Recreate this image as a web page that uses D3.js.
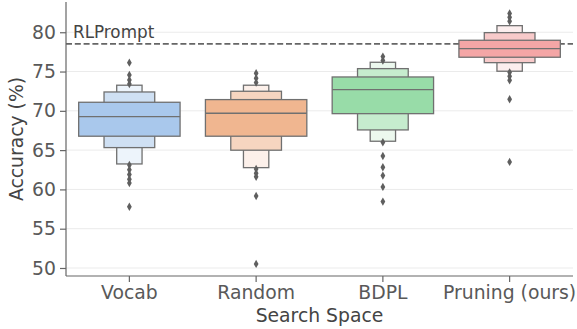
<!DOCTYPE html>
<html>
<head>
<meta charset="utf-8">
<script src="https://cdn.jsdelivr.net/npm/d3@7"></script>
<style>
  body { margin: 0; background: #fff; }
  text { font-family: "DejaVu Sans", sans-serif; }
</style>
</head>
<body>
<div id="chart"></div>
<script>
// Categories and letter-value boxes
const categories = ["Vocab", "Random", "BDPL", "Pruning (ours)"];
const medians = [69.26, 69.69, 72.70, 77.91];
// [low, high] for each letter-value level, innermost first
const level1 = [[66.77, 71.09], [66.77, 71.43], [69.64, 74.31], [76.82, 78.98]];
const level2 = [[65.32, 72.40], [64.99, 72.49], [67.57, 75.37], [76.13, 79.95]];
const level3 = [[63.24, 73.26], [62.77, 73.26], [66.13, 76.18], [75.04, 80.84]];
const outliers = [
    [76.13, 74.57, 73.93, 73.42, 63.1, 62.5, 61.9, 61.3, 60.8, 57.8],
    [74.78, 74.15, 73.59, 62.6, 62.06, 61.6, 59.17, 50.52],
    [76.9, 76.4, 66.0, 64.26, 62.82, 61.76, 60.32, 58.45],
    [82.4, 81.9, 81.4, 74.9, 74.4, 73.9, 71.48, 63.5]
];
const baseline = 78.51;
const baselineLabel = "RLPrompt";
const yTicks = [50, 55, 60, 65, 70, 75, 80];

const colors = [
    ["#a9c8ec", "#cfe0f3", "#edf4fb"],
    ["#f0b690", "#f6d5c0", "#fcf0ea"],
    ["#98dca8", "#c6ecce", "#ecf8ee"],
    ["#f4a6a6", "#f8caca", "#fceeee"]
];

const margin = {top: 2, right: 4, bottom: 53, left: 66};
const width = 577 - margin.left - margin.right;
const height = 329 - margin.top - margin.bottom;
const fontSize = 18.8;

const svg = d3.select("#chart")
    .append("svg")
    .attr("width", width + margin.left + margin.right)
    .attr("height", height + margin.top + margin.bottom)
    .append("g")
    .attr("transform", `translate(${margin.left},${margin.top})`);

const x = d3.scaleBand()
    .domain(categories)
    .range([0, width])
    .padding(0);

const y = d3.scaleLinear()
    .domain([48.98, 83.85])
    .range([height, 0]);

// Grid lines
svg.append("g")
    .selectAll("line")
    .data(yTicks)
    .enter()
    .append("line")
    .attr("x1", 0)
    .attr("x2", width)
    .attr("y1", d => y(d))
    .attr("y2", d => y(d))
    .attr("stroke", "#ebebeb")
    .attr("stroke-width", 1);

// Baseline
svg.append("line")
    .attr("x1", 0)
    .attr("x2", width)
    .attr("y1", y(baseline))
    .attr("y2", y(baseline))
    .attr("stroke", "#666")
    .attr("stroke-width", 1.7)
    .attr("stroke-dasharray", "6,2.8");

svg.append("text")
    .attr("x", 7)
    .attr("y", y(baseline) - 6)
    .attr("font-size", 16.8)
    .attr("fill", "#444")
    .text(baselineLabel);

// Boxen
const step = x.bandwidth();
const levels = [level3, level2, level1];
const fracs = [0.2, 0.4, 0.8];

categories.forEach((cat, i) => {
    const cx = x(cat) + step / 2;
    levels.forEach((lv, j) => {
        const w = step * fracs[j];
        const [lo, hi] = lv[i];
        svg.append("rect")
            .attr("x", cx - w / 2)
            .attr("y", y(hi))
            .attr("width", w)
            .attr("height", y(lo) - y(hi))
            .attr("fill", colors[i][2 - j])
            .attr("stroke", "#707070")
            .attr("stroke-width", 1.3);
    });
    const w = step * 0.8;
    svg.append("line")
        .attr("x1", cx - w / 2)
        .attr("x2", cx + w / 2)
        .attr("y1", y(medians[i]))
        .attr("y2", y(medians[i]))
        .attr("stroke", "#707070")
        .attr("stroke-width", 1.3);

    svg.append("g")
        .selectAll("path")
        .data(outliers[i])
        .enter()
        .append("path")
        .attr("d", "M0,-4.2L2.4,0L0,4.2L-2.4,0Z")
        .attr("transform", d => `translate(${cx},${y(d)})`)
        .attr("fill", "#5f5f5f");
});

// Axes
const yAxis = svg.append("g")
    .call(d3.axisLeft(y).tickValues(yTicks).tickSize(6).tickPadding(4));
const xAxis = svg.append("g")
    .attr("transform", `translate(0,${height})`)
    .call(d3.axisBottom(x).tickSize(6).tickPadding(4));

[yAxis, xAxis].forEach(ax => {
    ax.select(".domain").attr("stroke", "#666").attr("stroke-width", 1.2);
    ax.selectAll(".tick line").attr("stroke", "#666").attr("stroke-width", 1.2);
    ax.selectAll(".tick text")
        .attr("fill", "#595959")
        .style("font-family", "DejaVu Sans")
        .style("font-size", fontSize + "px");
});
yAxis.select(".domain").attr("d", `M0,0V${height}`);
xAxis.select(".domain").attr("d", `M0,0H${width}`);

// Axis labels
svg.append("text")
    .attr("x", width / 2)
    .attr("y", height + 46)
    .attr("text-anchor", "middle")
    .attr("font-size", fontSize)
    .attr("fill", "#444")
    .text("Search Space");

svg.append("text")
    .attr("transform", "rotate(-90)")
    .attr("x", -height / 2)
    .attr("y", -43.5)
    .attr("text-anchor", "middle")
    .attr("font-size", fontSize)
    .attr("fill", "#444")
    .text("Accuracy (%)");
</script>
</body>
</html>
